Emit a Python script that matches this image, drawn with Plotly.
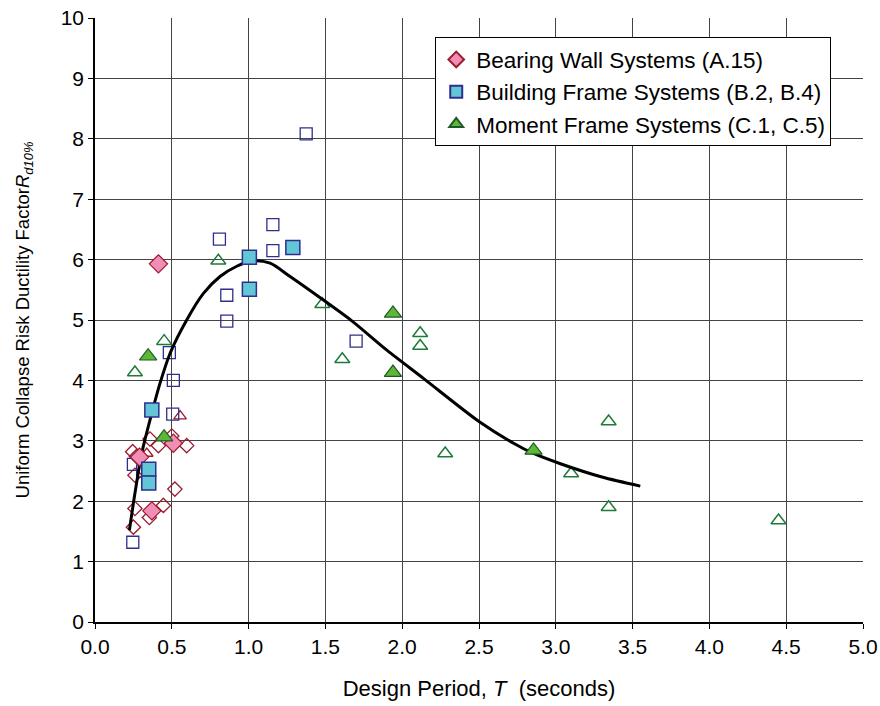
import plotly.graph_objects as go

# Bearing wall systems (A.15)
bw_fill_T = [0.413, 0.51, 0.37, 0.29]
bw_fill_R = [5.93, 2.96, 1.84, 2.73]
bw_open_T = [0.358, 0.50, 0.413, 0.597, 0.245, 0.27, 0.26, 0.52, 0.26, 0.445, 0.354, 0.25, 0.554, 0.337]
bw_open_R = [3.03, 3.08, 2.92, 2.92, 2.82, 2.74, 2.43, 2.20, 1.88, 1.93, 1.73, 1.57, 3.41, 2.79]
bw_open_sym = ["diamond-open"] * 12 + ["triangle-up-open"] * 2

# Building frame systems (B.2, B.4)
bf_fill_T = [1.005, 1.288, 1.005, 0.37, 0.35, 0.35]
bf_fill_R = [6.04, 6.20, 5.51, 3.51, 2.53, 2.30]
bf_open_T = [0.81, 1.158, 1.158, 0.858, 0.858, 1.375, 1.70, 0.484, 0.51, 0.506, 0.25, 0.31, 0.246]
bf_open_R = [6.34, 6.58, 6.15, 5.41, 4.98, 8.08, 4.65, 4.46, 4.00, 3.44, 2.61, 2.50, 1.32]

# Moment frame systems (C.1, C.5)
mf_fill_T = [0.346, 0.45, 1.94, 1.94, 2.855]
mf_fill_R = [4.40, 3.06, 5.11, 4.13, 2.84]
mf_open_T = [0.803, 0.45, 0.26, 1.48, 1.61, 2.117, 2.117, 2.28, 3.344, 3.10, 3.344, 4.45]
mf_open_R = [5.98, 4.65, 4.13, 5.26, 4.35, 4.78, 4.57, 2.79, 3.32, 2.46, 1.90, 1.68]

# Trend curve
fit_T = [0.224, 0.26, 0.304, 0.37, 0.423, 0.489, 0.597, 0.706, 0.814, 0.923, 1.03, 1.14,
         1.27, 1.487, 1.68, 1.90, 2.14, 2.50, 2.725, 2.855, 3.03, 3.30, 3.55]
fit_R = [1.52, 2.13, 2.79, 3.46, 3.95, 4.45, 5.00, 5.44, 5.72, 5.89, 5.98, 5.94,
         5.72, 5.33, 4.97, 4.50, 4.03, 3.32, 2.96, 2.79, 2.62, 2.40, 2.25]

x_ticks = [0.0, 0.5, 1.0, 1.5, 2.0, 2.5, 3.0, 3.5, 4.0, 4.5, 5.0]
y_ticks = list(range(0, 11))

RED = "#9B1B30"
PINK = "#F28DB5"
NAVY = "#2E2F8C"
CYAN = "#62C6D6"
DKGREEN = "#1F7A3A"
GREEN = "#5DB83A"

FONT = "Liberation Sans, Arial, sans-serif"

fig = go.Figure()

fig.add_trace(go.Scatter(
    x=bw_open_T, y=bw_open_R, mode="markers", showlegend=False,
    marker=dict(symbol=bw_open_sym, size=11, color=RED, line=dict(color=RED, width=1.3)),
))
fig.add_trace(go.Scatter(
    x=bf_open_T, y=bf_open_R, mode="markers", showlegend=False,
    marker=dict(symbol="square-open", size=12, color=NAVY, line=dict(color=NAVY, width=1.3)),
))
fig.add_trace(go.Scatter(
    x=mf_open_T, y=mf_open_R, mode="markers", showlegend=False,
    marker=dict(symbol="triangle-up-open", size=13, color=DKGREEN, line=dict(color=DKGREEN, width=1.5)),
))

fig.add_trace(go.Scatter(
    x=fit_T, y=fit_R, mode="lines", showlegend=False,
    line=dict(color="black", width=3, shape="spline", smoothing=0.8),
))

fig.add_trace(go.Scatter(
    x=bw_fill_T, y=bw_fill_R, mode="markers", name="Bearing Wall Systems (A.15)",
    marker=dict(symbol="diamond", size=14, color=PINK, line=dict(color=RED, width=1.2)),
))
fig.add_trace(go.Scatter(
    x=bf_fill_T, y=bf_fill_R, mode="markers", name="Building Frame Systems (B.2, B.4)",
    marker=dict(symbol="square", size=14, color=CYAN, line=dict(color=NAVY, width=1.5)),
))
fig.add_trace(go.Scatter(
    x=mf_fill_T, y=mf_fill_R, mode="markers", name="Moment Frame Systems (C.1, C.5)",
    marker=dict(symbol="triangle-up", size=15, color=GREEN, line=dict(color="#1E5A25", width=1.2)),
))

fig.update_layout(
    width=880, height=706,
    margin=dict(l=95, r=17, t=18, b=84),
    paper_bgcolor="white", plot_bgcolor="white",
    font=dict(family=FONT, size=22, color="black"),
    legend=dict(
        x=0.443, y=0.968, xanchor="left", yanchor="top",
        bgcolor="white", bordercolor="black", borderwidth=1,
        font=dict(family=FONT, size=22.5, color="black"),
        itemsizing="constant", itemwidth=30,
    ),
)

fig.update_xaxes(
    range=[0, 5], tickvals=x_ticks, ticktext=[f"{v:.1f}" for v in x_ticks],
    showgrid=True, gridcolor="#444444", gridwidth=1,
    showline=True, linecolor="black", linewidth=1.5,
    ticks="outside", ticklen=5, tickcolor="black",
    zeroline=False, automargin=False,
    title=dict(text="Design Period, <i>T</i>  (seconds)", font=dict(family=FONT, size=22), standoff=24),
    tickfont=dict(family=FONT, size=21),
)
fig.update_yaxes(
    range=[0, 10], tickvals=y_ticks,
    showgrid=True, gridcolor="#444444", gridwidth=1,
    showline=True, linecolor="black", linewidth=1.5,
    ticks="outside", ticklen=5, tickcolor="black",
    zeroline=False, automargin=False,
    title=dict(text="Uniform Collapse Risk Ductility Factor<i>R</i><sub><i>d10%</i></sub>",
               font=dict(family=FONT, size=18.5), standoff=26),
    tickfont=dict(family=FONT, size=21),
)

fig.write_html("out.html")
